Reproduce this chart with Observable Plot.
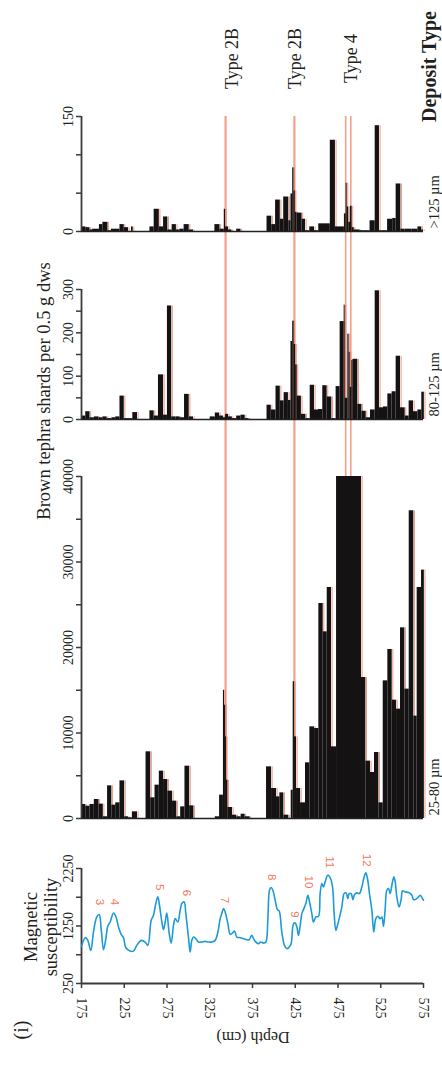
<!DOCTYPE html>
<html><head><meta charset="utf-8">
<script src="https://cdn.jsdelivr.net/npm/d3@7"></script>
<script src="https://cdn.jsdelivr.net/npm/@observablehq/plot@0.6"></script>
<style>
html,body{margin:0;padding:0;background:#fff;}
#chart{position:relative;width:442px;height:1066px;overflow:hidden;background:#fff;}
#chart > svg{position:absolute;left:0;}
</style></head><body><div id="chart"></div>
<script>
// ---------- data ----------
const depthDomain = [175, 575];
const depthTicks = [175, 225, 275, 325, 375, 425, 475, 525, 575];
const sizeClasses = [">125 µm", "80-125 µm", "25-80 µm"];

// [depth from, depth to, brown tephra shards per 0.5 g dws]
const coarse = [[175,180,6],[180,185,5],[185,188,2],[188,196,3],[196,200,9],[200,206,12],[206,210,1],[210,220,3],[220,225,9],[225,230,5],[233.5,235.5,6],[255,260,6],[260,266,29],[266,271,6],[271,276,19],[276,281,2],[281,286,9],[286,290,2],[290,295,3],[295,301,9],[301,306,2],[331,337,9],[337,342,3],[342,343.5,29],[343.5,347,6],[347,351,2],[356.5,361.5,3],[392,397.5,20],[397.5,402,9],[402,407.5,41],[407.5,411.5,16],[411.5,417.5,45],[417.5,420,14],[420,422,49],[422,423.5,83],[423.5,425,53],[425,427,25],[427,433,24],[433,437,16],[437,442,1],[442,447.5,6],[447.5,452.5,1],[452.5,466,10],[466,472,119],[472,482.5,6],[482.5,484.5,23],[484.5,485.7,63],[485.7,487.6,32],[487.6,489.6,12],[489.6,491.5,33],[491.5,494,5],[494,501,2],[501,512.5,1],[512.5,518.5,14],[518.5,523.5,138],[523.5,533,1],[533,539,16],[539,543,17],[543,548.5,62],[548.5,553.5,3],[553.5,561.5,3],[561.5,568.5,3],[568.5,573,6],[573,575,2]];

const medium = [[175,180,8],[180,185,18],[185,190,4],[190,195.5,6],[195.5,200,4],[200,205,6],[205,210.5,2],[210.5,215,4],[215,220,6],[220,225,54],[225,235,2],[235,240.5,16],[255,260,20],[260,265,8],[265,271,103],[271,275.5,10],[275.5,280.5,262],[280.5,285.5,6],[285.5,290.5,6],[290.5,295.5,4],[295.5,301,58],[301,306,6],[325.5,331.5,6],[331.5,336.5,15],[336.5,341,8],[341,343.5,4],[343.5,347,12],[347,351.5,6],[351.5,356.5,2],[356.5,361.5,8],[361.5,366.5,10],[366.5,371,2],[392,397,33],[397,402.5,22],[402.5,407.5,77],[407.5,412,43],[412,417,62],[417,420,44],[420,422,180],[422,423.7,227],[423.7,425.5,173],[425.5,427.2,126],[427.2,432.2,54],[432.2,437.5,12],[437.5,442.5,2],[442.5,447.5,79],[447.5,452.2,22],[452.2,457.2,23],[457.2,462.3,78],[462.3,467.8,52],[467.8,472.8,2],[472.8,477.5,76],[477.5,482.2,226],[482.2,483.4,264],[483.4,486.5,49],[486.5,488,197],[488,489.2,155],[489.2,491.2,74],[491.2,492.4,136],[492.4,498.2,139],[498.2,503,35],[503,508,19],[508,513,4],[513,518.5,22],[518.5,523.5,297],[523.5,528.2,27],[528.2,533.3,29],[533.3,538.3,59],[538.3,543,64],[543,548.1,146],[548.1,553.6,27],[553.6,558.2,8],[558.2,563.3,43],[563.3,568.4,18],[568.4,573,22],[573,576,63]];

const fine = [[175,180,1640],[180,185,1440],[185,190,1640],[190,195.5,2220],[195.5,200.5,1680],[200.5,205.5,200],[205.5,210.5,3820],[210.5,215,1560],[215,220,1830],[220,225.5,4400],[225.5,230,200],[230,234.5,80],[234.5,240.5,780],[250.5,256,7800],[256,261,2420],[261,266,3900],[266,271,5540],[271,276,4560],[276,281.5,3200],[281.5,286.5,2030],[286.5,291,200],[291,296,1360],[296,301.5,6120],[301.5,306.5,1480],[331.5,336.5,200],[336.5,341,2730],[341,342.3,15000],[342.3,343.5,13250],[343.5,344.6,9550],[344.6,346.2,4480],[346.2,351.6,1290],[351.6,356.7,390],[356.7,361.7,200],[361.7,366.4,500],[366.4,372.3,200],[391.4,397.3,6040],[397.3,403.1,3510],[403.1,407,2530],[407,411.7,3000],[411.7,417.5,390],[420.3,422.6,3310],[422.6,424.2,16000],[424.2,426.5,9550],[426.5,431.2,3510],[431.2,437,1830],[437,442.1,6510],[442.1,447.6,10720],[447.6,452.6,10530],[452.6,457.7,25150],[457.7,462.4,21830],[462.4,467.4,27020],[467.4,473.3,8380],[473.3,502.5,40000],[502.5,507.6,16490],[507.6,513,6710],[513,517.7,5380],[517.7,522.8,7720],[522.8,527.9,1830],[527.9,533.3,16100],[533.3,538.4,19770],[538.4,543.5,13840],[543.5,548.1,12790],[548.1,553.2,22300],[553.2,558.3,15130],[558.3,563.7,35990],[563.7,567.6,11970],[567.6,572.7,27020],[572.7,576,29050]];

// magnetic susceptibility: [depth, value]
const magSus = [[175.0,895],[179.3,1047],[182.0,1012],[185.9,826],[189.0,1145],[192.9,1407],[195.7,1448],[198.0,1203],[200.7,837],[203.5,1029],[205.8,1250],[208.5,1320],[212.4,1477],[215.1,1419],[218.3,1233],[221.4,1105],[224.1,1047],[226.9,872],[231.9,814],[235.8,814],[239.7,913],[244.8,1000],[249.5,971],[252.6,913],[256.5,1349],[259.2,1436],[261.9,1640],[264.3,1756],[266.2,1611],[269.0,1320],[270.9,1186],[272.9,1320],[274.8,1477],[277.5,1128],[279.9,953],[282.6,1262],[284.6,1378],[287.7,1320],[290.4,1523],[292.3,1640],[295.1,1669],[297.0,1465],[300.1,1058],[302.1,797],[304.0,1000],[306.0,1058],[308.7,1029],[311.8,971],[315.7,971],[319.6,983],[323.5,971],[327.4,971],[331.3,1000],[334.5,1145],[337.2,1378],[339.1,1465],[341.1,1552],[343.0,1494],[346.2,1291],[348.9,1105],[351.6,1128],[354.0,1163],[356.7,1058],[360.6,1047],[364.5,1029],[368.4,1012],[371.1,1012],[374.2,1087],[376.2,1029],[378.1,983],[382.0,942],[384.7,971],[387.9,953],[390.6,971],[392.9,1349],[394.9,1872],[396.8,1919],[398.8,1872],[401.5,1698],[404.2,1535],[406.2,1512],[409.3,1145],[412.4,913],[415.2,855],[417.9,884],[420.2,942],[423.0,1291],[424.9,1302],[426.9,1233],[428.8,1087],[430.8,1262],[432.7,1465],[434.6,1535],[437.4,1640],[439.7,1785],[441.3,1698],[444.4,1465],[446.3,1320],[449.1,1407],[452.2,1419],[454.1,1814],[456.1,1988],[458.0,1930],[460.0,2017],[463.1,2134],[465.8,2093],[468.6,1930],[470.5,1465],[472.5,1174],[474.4,1262],[476.4,1378],[479.5,1581],[482.2,1814],[484.6,1826],[486.5,1727],[488.1,1814],[490.4,1814],[492.4,1709],[494.3,1797],[497.0,1826],[500.1,1814],[502.9,1930],[505.6,2105],[507.6,2174],[509.5,2076],[511.8,1814],[514.6,1523],[516.9,1145],[519.2,1378],[521.6,1419],[524.3,1378],[526.3,1407],[528.2,1244],[530.2,1552],[532.1,1872],[534.1,1901],[536.0,1814],[538.0,1959],[540.3,2105],[541.9,2017],[543.8,1756],[546.5,1581],[549.0,1727],[550.4,1860],[553.6,1843],[557.5,1831],[561.4,1785],[563.3,1709],[565.3,1709],[568.4,1744],[571.1,1785],[573.1,1744],[575.0,1698]];

// numbered peaks: [label, depth, value]
const peaks = [["3",196,1668],["4",214,1668],["5",266.6,1924],["6",297.8,1825],["7",342.3,1697],["8",398,2098],["9",424,1450],["10",440.5,2016],["11",465,2360],["12",509,2395]];

// deposit-type horizons
const typeLineDepths = [343.5, 424, 484, 490];
const typeLabels = [["Type 2B", 342.8], ["Type 2B", 416.5], ["Type 4", 482.6]];

// y-axis ticks per panel
const coarseTicks = [0, 50, 100, 150], coarseLabels = [0, 150];
const mediumTicks = [0, 50, 100, 150, 200, 250, 300], mediumLabels = [0, 100, 200, 300];
const fineTicks = [0, 5000, 10000, 15000, 20000, 25000, 30000, 35000, 40000], fineLabels = [0, 10000, 20000, 30000, 40000];
const msTicks = [250, 750, 1250, 1750, 2250], msLabels = [250, 1250, 2250];

// ---------- drawing ----------
const chart = document.getElementById("chart");
const serif = "'Liberation Serif', 'Times New Roman', serif";
const ink = "#231f20";
const axisInk = "#3b3b3b";
const salmon = "#f5a08b";
const baseStyle = {background: "transparent", fontFamily: serif, fontSize: "14px", color: ink, overflow: "visible"};
const common = {width: 442, marginLeft: 81, marginRight: 19};

// horizon lines + labels (underneath the panels)
const overlay = Plot.plot({
  ...common, height: 1066, marginTop: 116, marginBottom: 248,
  x: {domain: depthDomain, axis: null},
  style: baseStyle,
  marks: [
    Plot.ruleX(typeLineDepths, {stroke: salmon, strokeWidth: (d, i) => i < 2 ? 2.2 : 1.6}),
    Plot.text(typeLabels, {x: d => d[1], text: d => d[0], frameAnchor: "top", dy: -58, rotate: -90, fontSize: 18, fontFamily: serif, fill: ink})
  ]
});
overlay.style.top = "0px";
chart.append(overlay);

const rowsOf = arr => arr.map(([from, to, value]) => ({from, to, value}));

function barPanel(rows, name, domain, ticks, labels, top, innerHeight) {
  const p = Plot.plot({
    ...common, height: innerHeight + 20, marginTop: 10, marginBottom: 10,
    x: {domain: depthDomain, axis: null},
    y: {domain, axis: null},
    style: baseStyle,
    marks: [
      Plot.ruleX(rows, {x: "to", y1: 0, y2: "value", stroke: "#e9775e", strokeOpacity: 0.75, strokeWidth: 1, dx: 0.6}),
      Plot.rectY(rows, {x1: "from", x2: "to", y: "value", fill: "#141212"}),
      Plot.ruleY([0], {stroke: "#222", strokeWidth: 1.5}),
      Plot.ruleX([depthDomain[0]], {stroke: axisInk, strokeWidth: 1.8}),
      Plot.axisY({ticks, tickFormat: d => labels.includes(d) ? String(d) : "", tickRotate: -90, tickSize: 5, label: null, stroke: axisInk, strokeWidth: 1.5, fill: ink, fontFamily: serif, fontSize: 14}),
      Plot.text([name], {text: d => d, frameAnchor: "bottom-right", rotate: -90, textAnchor: "start", lineAnchor: "bottom", dx: 15, dy: -3, fontSize: 14.5, fontFamily: serif, fill: ink})
    ]
  });
  p.style.top = top + "px";
  chart.append(p);
}

barPanel(rowsOf(coarse), sizeClasses[0], [0, 150], coarseTicks, coarseLabels, 106, 115);
barPanel(rowsOf(medium), sizeClasses[1], [0, 300], mediumTicks, mediumLabels, 279, 130);
barPanel(rowsOf(fine), sizeClasses[2], [0, 40000], fineTicks, fineLabels, 466, 342);

// magnetic susceptibility panel
const ms = Plot.plot({
  ...common, height: 208, marginTop: 10, marginBottom: 83,
  x: {domain: depthDomain, axis: null},
  y: {domain: [250, 2250], axis: null},
  style: baseStyle,
  marks: [
    Plot.ruleX([depthDomain[0]], {stroke: axisInk, strokeWidth: 1.8}),
    Plot.ruleY([250], {stroke: axisInk, strokeWidth: 1.8}),
    Plot.line(magSus, {x: d => d[0], y: d => d[1], stroke: "#1c9bd6", strokeWidth: 1.6, curve: "catmull-rom"}),
    Plot.text(peaks, {x: d => d[1], y: d => d[2], text: d => d[0], rotate: 90, fill: "#f07a5c", fontSize: 11.5, fontFamily: "'Liberation Sans', Arial, sans-serif"}),
    Plot.axisY({ticks: msTicks, tickFormat: d => msLabels.includes(d) ? String(d) : "", tickRotate: -90, tickSize: 5, label: null, stroke: axisInk, strokeWidth: 1.5, fill: ink, fontFamily: serif, fontSize: 14}),
    Plot.axisX({ticks: depthTicks, tickFormat: d => String(d), tickRotate: 90, tickSize: 5, tickPadding: 9, label: null, stroke: axisInk, strokeWidth: 1.5, fill: ink, fontFamily: serif, fontSize: 14})
  ]
});
ms.style.top = "858px";
chart.append(ms);

// free-standing titles
const ann = d3.select(chart).append("svg")
  .attr("width", 442).attr("height", 1066)
  .style("top", "0px").style("pointer-events", "none")
  .attr("font-family", serif).attr("fill", ink);

ann.append("text").attr("transform", "translate(50,391) rotate(-90)")
  .attr("text-anchor", "middle").attr("font-size", 18.5)
  .text("Brown tephra shards per 0.5 g dws");
ann.append("text").attr("transform", "translate(436,122) rotate(-90)")
  .attr("text-anchor", "start").attr("font-size", 20).attr("font-weight", "bold")
  .text("Deposit Type");
ann.append("text").attr("transform", "translate(37,927) rotate(-90)")
  .attr("text-anchor", "middle").attr("font-size", 18.5).text("Magnetic");
ann.append("text").attr("transform", "translate(57,927) rotate(-90)")
  .attr("text-anchor", "middle").attr("font-size", 18.5).text("susceptibility");
ann.append("text").attr("transform", "translate(253,1032) rotate(180)")
  .attr("text-anchor", "middle").attr("font-size", 16).text("Depth (cm)");
ann.append("text").attr("transform", "translate(28,1030) rotate(-90)")
  .attr("text-anchor", "middle").attr("font-size", 20).text("(i)");
</script>
</body></html>
